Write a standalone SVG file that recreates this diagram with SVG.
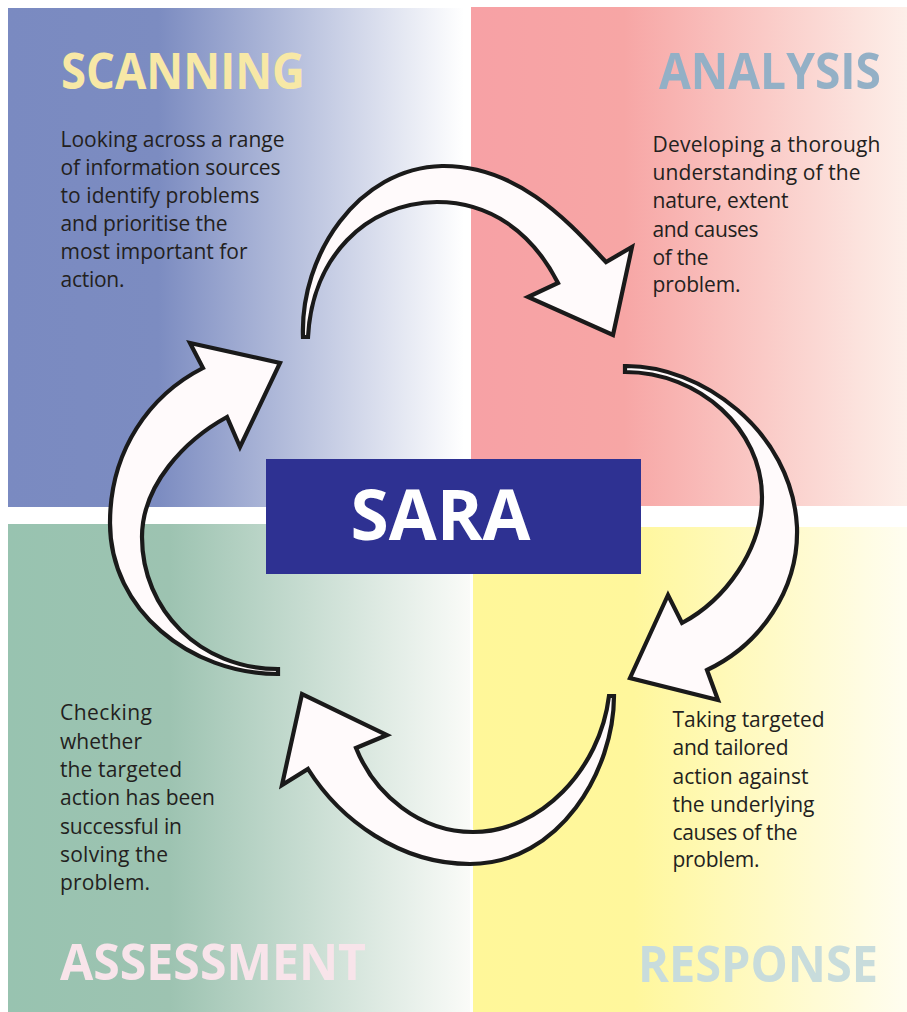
<svg xmlns="http://www.w3.org/2000/svg" width="907" height="1012" viewBox="0 0 907 1012">
<defs>
<linearGradient id="gTL" x1="0" y1="0" x2="1" y2="0">
<stop offset="0" stop-color="#7A8AC1"/><stop offset="0.33" stop-color="#7C8CC1"/><stop offset="1" stop-color="#FFFFFF"/>
</linearGradient>
<linearGradient id="gTR" x1="0" y1="0" x2="1" y2="0">
<stop offset="0" stop-color="#F7A1A5"/><stop offset="0.35" stop-color="#F7A6A5"/><stop offset="1" stop-color="#FDEFE9"/>
</linearGradient>
<linearGradient id="gBL" x1="0" y1="0" x2="1" y2="0">
<stop offset="0" stop-color="#98C3B0"/><stop offset="0.35" stop-color="#9DC3B1"/><stop offset="1" stop-color="#FAFBF8"/>
</linearGradient>
<linearGradient id="gBR" x1="0" y1="0" x2="1" y2="0">
<stop offset="0" stop-color="#FFF799"/><stop offset="0.37" stop-color="#FFF79C"/><stop offset="1" stop-color="#FFFDF0"/>
</linearGradient>
</defs>
<style>
.head{font-family:"Open Sans","Liberation Sans",sans-serif;font-weight:700;font-size:50px}
.body{font-family:"Open Sans","Liberation Sans",sans-serif;font-size:21px;fill:#231F20}
.arrow{fill:#FFFAFB;stroke:#1A1A1A;stroke-width:4.2;stroke-linejoin:miter}
</style>
<rect width="907" height="1012" fill="#FFFFFF"/>
<g id="scanning">
<rect x="8" y="8" width="456" height="499" fill="url(#gTL)"/>
<text class="head" x="61" y="89" fill="#F7E8A6" textLength="244" lengthAdjust="spacingAndGlyphs">SCANNING</text>
<text class="body" lengthAdjust="spacingAndGlyphs">
<tspan x="60.5" y="147" textLength="224">Looking across a range</tspan>
<tspan x="60.5" y="175" textLength="220">of information sources</tspan>
<tspan x="60.5" y="203" textLength="199">to identify problems</tspan>
<tspan x="60.5" y="231" textLength="167">and prioritise the</tspan>
<tspan x="60.5" y="259" textLength="187">most important for</tspan>
<tspan x="60.5" y="287" textLength="64">action.</tspan>
</text>
</g>
<g id="analysis">
<rect x="471" y="7" width="436" height="499" fill="url(#gTR)"/>
<text class="head" x="659" y="89" fill="#93B0C6" textLength="222" lengthAdjust="spacingAndGlyphs">ANALYSIS</text>
<text class="body" lengthAdjust="spacingAndGlyphs">
<tspan x="652.5" y="152" textLength="228">Developing a thorough</tspan>
<tspan x="652.5" y="180" textLength="208">understanding of the</tspan>
<tspan x="652.5" y="208" textLength="136">nature, extent</tspan>
<tspan x="652.5" y="236.5" textLength="106">and causes</tspan>
<tspan x="652.5" y="264.5" textLength="56">of the</tspan>
<tspan x="652.5" y="292" textLength="88">problem.</tspan>
</text>
</g>
<g id="assessment">
<rect x="8" y="524" width="462" height="488" fill="url(#gBL)"/>
<text class="head" x="60" y="980" fill="#F8E4EA" textLength="306" lengthAdjust="spacingAndGlyphs">ASSESSMENT</text>
<text class="body" lengthAdjust="spacingAndGlyphs">
<tspan x="60" y="720" textLength="92">Checking</tspan>
<tspan x="60" y="748.5" textLength="82">whether</tspan>
<tspan x="60" y="777" textLength="122">the targeted</tspan>
<tspan x="60" y="805" textLength="155">action has been</tspan>
<tspan x="60" y="833.5" textLength="122">successful in</tspan>
<tspan x="60" y="861.5" textLength="108">solving the</tspan>
<tspan x="60" y="890" textLength="90">problem.</tspan>
</text>
</g>
<g id="response">
<rect x="473" y="527" width="434" height="485" fill="url(#gBR)"/>
<text class="head" x="638" y="981.5" fill="#C8DCDC" textLength="240" lengthAdjust="spacingAndGlyphs">RESPONSE</text>
<text class="body" lengthAdjust="spacingAndGlyphs">
<tspan x="672.5" y="727" textLength="152">Taking targeted</tspan>
<tspan x="672.5" y="755" textLength="116">and tailored</tspan>
<tspan x="672.5" y="783.5" textLength="136">action against</tspan>
<tspan x="672.5" y="811.5" textLength="142">the underlying</tspan>
<tspan x="672.5" y="840" textLength="125">causes of the</tspan>
<tspan x="672.5" y="867" textLength="87">problem.</tspan>
</text>
</g>
<g id="connectors">
<path class="arrow" d="M 303,337 C 300,255 358,168 442,166 C 520,165 572,226 606,262 L 632,247 L 613,335 L 528,297 L 558,283 C 532,232 490,202 437,202 C 365,203 312,258 308,337 Z"/>
<path class="arrow" d="M 625,366 C 700,365 792,430 797,527 C 799,590 760,645 707,670 L 718,700 L 630,678 L 668,595 L 682,623 C 725,600 762,550 762,497 C 762,430 700,372 625,372 Z"/>
<path class="arrow" d="M 614,696 C 614,770 560,864 470,864 C 400,864 340,820 308,769 L 282,785 L 302,694 L 387,735 L 356,748 C 375,795 420,832 473,832 C 540,832 600,770 609,696 Z"/>
<path class="arrow" d="M 278,674 C 190,674 110,610 110,523 C 110,450 150,395 203,368 L 190,343 L 280,363 L 240,447 L 227,417 C 185,440 142,485 142,537 C 142,610 200,669 278,669 Z"/>
</g>
<g id="sara">
<rect x="266" y="459" width="375" height="115" fill="#2E3192"/>
<text x="440.5" y="540" text-anchor="middle" font-family="'Open Sans','Liberation Sans',sans-serif" font-weight="700" font-size="70" fill="#FFFFFF" textLength="180" lengthAdjust="spacingAndGlyphs">SARA</text>
</g>
</svg>
